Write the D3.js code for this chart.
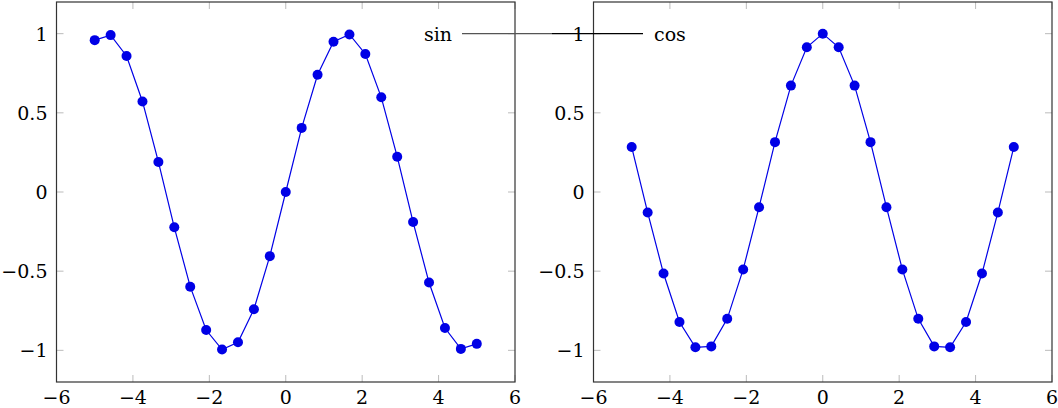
<!DOCTYPE html>
<html>
<head>
<meta charset="utf-8">
<script src="https://d3js.org/d3.v7.min.js"></script>
<style>
  body { margin: 0; background: #fff; }
</style>
</head>
<body>
<svg width="1058" height="408"></svg>
<script>
// sample positions (25 samples on [-5, 5])
var xs = [-5, -4.583, -4.167, -3.75, -3.333, -2.917, -2.5, -2.083, -1.667, -1.25, -0.833, -0.417,
          0, 0.417, 0.833, 1.25, 1.667, 2.083, 2.5, 2.917, 3.333, 3.75, 4.167, 4.583, 5];
var sinVals = [0.959, 0.991, 0.859, 0.572, 0.190, -0.223, -0.598, -0.872, -0.995, -0.949, -0.740, -0.405,
               0, 0.405, 0.740, 0.949, 0.995, 0.872, 0.598, 0.223, -0.190, -0.572, -0.859, -0.991, -0.959];
var cosVals = [0.284, -0.129, -0.515, -0.821, -0.981, -0.975, -0.801, -0.489, -0.096, 0.315, 0.672, 0.914,
               1, 0.914, 0.672, 0.315, -0.096, -0.489, -0.801, -0.975, -0.981, -0.821, -0.515, -0.129, 0.284];
var xTicks = [-6, -4, -2, 0, 2, 4, 6];
var yTicks = [-1, -0.5, 0, 0.5, 1];
var seriesNames = ["sin", "cos"];

var FONT = "DejaVu Serif";
var FS = 19;

var svg = d3.select("svg");
var fmt = function(d) { return String(d).replace("-", "\u2212"); };
var blue = "#0000e6";

function label(g, x, y, anchor, txt) {
  return g.append("text").attr("x", x).attr("y", y).attr("text-anchor", anchor)
    .style("font-family", FONT).style("font-size", FS + "px").attr("fill", "#000").text(txt);
}

function panel(left, right, vals) {
  var top = 2, bottom = 382;
  var x = d3.scaleLinear().domain([-6, 6]).range([left, right]);
  var y = d3.scaleLinear().domain([-1.2, 1.2]).range([bottom, top]);
  var g = svg.append("g");

  // tick marks inside the box
  xTicks.forEach(function(t) {
    g.append("line").attr("x1", x(t)).attr("x2", x(t)).attr("y1", bottom).attr("y2", bottom - 7)
      .attr("stroke", "#bbb").attr("stroke-width", 1);
    g.append("line").attr("x1", x(t)).attr("x2", x(t)).attr("y1", top).attr("y2", top + 7)
      .attr("stroke", "#bbb").attr("stroke-width", 1);
    label(g, x(t), 404, "middle", fmt(t));
  });
  yTicks.forEach(function(t) {
    g.append("line").attr("x1", left).attr("x2", left + 7).attr("y1", y(t)).attr("y2", y(t))
      .attr("stroke", "#bbb").attr("stroke-width", 1);
    g.append("line").attr("x1", right).attr("x2", right - 7).attr("y1", y(t)).attr("y2", y(t))
      .attr("stroke", "#bbb").attr("stroke-width", 1);
    label(g, left - 9, y(t) + 7, "end", fmt(t));
  });

  g.append("rect").attr("x", left).attr("y", top).attr("width", right - left).attr("height", bottom - top)
    .attr("fill", "none").attr("stroke", "#333").attr("stroke-width", 1.2);

  var pts = xs.map(function(v, i) { return [v, vals[i]]; });
  var line = d3.line().x(function(d) { return x(d[0]); }).y(function(d) { return y(d[1]); });
  g.append("path").datum(pts).attr("d", line).attr("fill", "none")
    .attr("stroke", blue).attr("stroke-width", 1.2);
  g.selectAll("circle").data(pts).enter().append("circle")
    .attr("cx", function(d) { return x(d[0]); })
    .attr("cy", function(d) { return y(d[1]); })
    .attr("r", 5).attr("fill", blue);
  return { x: x, y: y };
}

var p1 = panel(56.5, 515, sinVals);
var p2 = panel(593.5, 1052, cosVals);

// legend (as drawn in the original: entries spread across the panels)
var ly = p1.y(1);
svg.append("line").attr("x1", 462).attr("x2", 552).attr("y1", ly).attr("y2", ly)
  .attr("stroke", "#555").attr("stroke-width", 1.2);
svg.append("line").attr("x1", 552).attr("x2", 643).attr("y1", ly).attr("y2", ly)
  .attr("stroke", "#000").attr("stroke-width", 1.2);
label(svg, 452, ly + 7, "end", seriesNames[0]);
label(svg, 654, ly + 7, "start", seriesNames[1]);
</script>
</body>
</html>
